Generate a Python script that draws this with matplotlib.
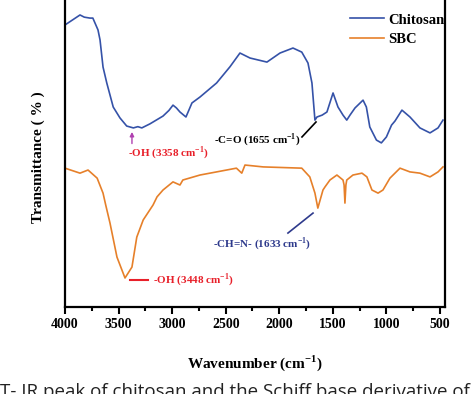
import matplotlib
matplotlib.use("Agg")
import matplotlib.pyplot as plt

# Chitosan FT-IR (wavenumber, transmittance a.u.)
chitosan_wn = [4000, 3930, 3860, 3820, 3767, 3740, 3692, 3673, 3645, 3610, 3550, 3487,
               3424, 3362, 3320, 3283, 3207, 3085, 3030, 2992, 2960, 2927, 2871, 2815,
               2740, 2585, 2460, 2367, 2273, 2115, 1993, 1872, 1790, 1732, 1695, 1667,
               1648, 1600, 1555, 1498, 1452, 1405, 1370, 1340, 1293, 1218, 1187, 1155,
               1093, 1047, 1000, 952, 920, 855, 780, 687, 593, 518, 472]
chitosan_t = [90.4, 92.0, 93.6, 92.9, 92.6, 92.6, 88.8, 85.6, 76.9, 71.8, 64.1, 60.6,
              58.0, 57.4, 57.8, 57.4, 58.7, 61.2, 63.0, 64.7, 63.8, 62.5, 60.9, 65.4,
              67.3, 71.8, 77.0, 81.4, 79.8, 78.5, 81.4, 83.0, 81.7, 78.2, 71.8, 59.9,
              60.9, 61.5, 62.5, 68.6, 64.1, 61.5, 59.9, 61.5, 63.8, 66.3, 64.1, 57.7,
              53.5, 52.6, 54.5, 58.3, 59.6, 63.1, 60.9, 57.4, 55.8, 57.4, 59.9]

# SBC FT-IR
sbc_wn = [4000, 3860, 3785, 3700, 3645, 3620, 3580, 3515, 3440, 3375, 3330, 3270,
          3178, 3141, 3085, 2992, 2927, 2900, 2740, 2585, 2400, 2350, 2320, 2150,
          1790, 1715, 1667, 1640, 1592, 1573, 1527, 1462, 1405, 1395, 1387, 1378,
          1370, 1312, 1228, 1182, 1135, 1078, 1032, 967, 873, 780, 687, 593, 518, 472]
sbc_t = [44.5, 42.9, 43.9, 41.3, 36.5, 32.7, 26.9, 16.0, 9.3, 12.8, 22.4, 27.9,
         32.7, 35.3, 37.5, 40.1, 39.1, 40.7, 42.3, 43.3, 44.5, 42.9, 45.5, 44.9,
         44.5, 41.7, 36.5, 31.7, 37.5, 38.5, 40.7, 42.3, 40.7, 39.1, 33.3, 39.1,
         40.7, 42.3, 42.9, 41.7, 37.5, 36.5, 37.5, 41.3, 44.5, 43.3, 42.9, 41.7, 43.3, 44.9]

xticks = [4000, 3500, 3000, 2500, 2000, 1500, 1000, 500]
series_labels = ["Chitosan", "SBC"]

BLUE = "#3552a8"
ORANGE = "#e6802a"
RED = "#e8202a"
NAVY = "#2e3a8c"
PURPLE = "#b040b0"
SERIF = ["Liberation Serif", "DejaVu Serif"]

fig = plt.figure(figsize=(4.74, 3.94), dpi=100)
ax = fig.add_axes([65 / 474, 87 / 394, 380 / 474, 312 / 394])

ax.plot(chitosan_wn, chitosan_t, color=BLUE, lw=1.2, label=series_labels[0])
ax.plot(sbc_wn, sbc_t, color=ORANGE, lw=1.2, label=series_labels[1])

ax.set_xlim(4000, 453)
ax.set_ylim(0, 100)
ax.set_xticks(xticks)
ax.set_xticks(range(3750, 400, -500), minor=True)
ax.set_yticks([])
for s in ax.spines.values():
    s.set_linewidth(1.6)
ax.tick_params(axis="x", which="major", direction="out", length=5, width=1.5, pad=3)
ax.tick_params(axis="x", which="minor", direction="out", length=3, width=1.5)
for lab in ax.get_xticklabels():
    lab.set_fontfamily(SERIF)
    lab.set_fontweight("bold")
    lab.set_fontsize(10)

ax.set_xlabel("Wavenumber (cm$^{\\mathregular{-1}}$)", fontfamily=SERIF, fontweight="bold",
              fontsize=11, labelpad=16)
ax.set_ylabel("Transmittance ( % )", fontfamily=SERIF, fontweight="bold", fontsize=11)
ax.yaxis.set_label_coords(-0.052, 0.48)

leg = ax.legend(loc="upper left", bbox_to_anchor=(343 / 474, 1 - 6 / 394),
                bbox_transform=fig.transFigure, frameon=False, borderpad=0,
                handlelength=2.3, handletextpad=0.3, labelspacing=0.45,
                prop={"family": SERIF, "weight": "bold", "size": 10.5})

akw = dict(fontfamily=SERIF, fontweight="bold", fontsize=8, va="center")
# -OH chitosan
ax.text(3412, 49.4, "-OH (3358 cm$^{\\mathregular{-1}}$)", color=RED, ha="left", **akw)
ax.annotate("", xy=(3375, 57.0), xytext=(3375, 51.5),
            arrowprops=dict(arrowstyle="-|>", color=PURPLE, lw=1, mutation_scale=6))
# C=O
ax.text(1807, 53.8, "-C=O (1655 cm$^{\\mathregular{-1}}$)", color="black", ha="right", **akw)
ax.plot([1788, 1657], [54.5, 59.3], color="black", lw=1.2)
# CH=N
ax.text(2619, 20.2, "-CH=N- (1633 cm$^{\\mathregular{-1}}$)", color=NAVY, ha="left", **akw)
ax.plot([1919, 1685], [23.7, 30.1], color=NAVY, lw=1.2)
# -OH SBC
ax.text(3179, 8.7, "-OH (3448 cm$^{\\mathregular{-1}}$)", color=RED, ha="left", **akw)
ax.plot([3393, 3225], [8.7, 8.7], color=RED, lw=1.5)

fig.text(0.0, -0.008, "T- IR peak of chitosan and the Schiff base derivative of",
         fontfamily=["Open Sans", "DejaVu Sans"], fontsize=13.5, color="#222222",
         ha="left", va="baseline")

fig.savefig("out.png", dpi=100)
